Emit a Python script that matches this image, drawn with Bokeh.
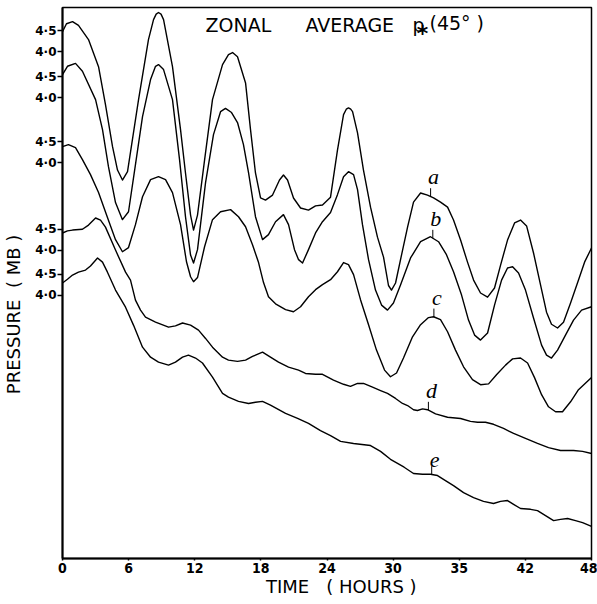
import numpy as np
from bokeh.plotting import figure
from bokeh.models import FixedTicker, Range1d, Label
from bokeh.core.properties import value
from bokeh.embed import file_html
from bokeh.resources import INLINE

# ---------------- data ----------------
hours_a = [0, 0.36, 0.91, 1.45, 2.36, 3.27, 3.90, 4.54, 4.99, 5.44, 5.90, 6.90, 7.80, 8.26, 8.50, 8.71,
           8.94, 9.17, 9.98, 10.71, 11.16, 11.62, 11.89, 12.25, 12.89, 13.61, 14.52, 15.06, 15.43, 15.88,
           16.61, 17.06, 17.51, 17.97, 18.42, 19.06, 19.69, 20.05, 20.42, 20.96, 21.60, 22.32, 22.96,
           23.59, 24.32, 24.95, 25.50, 25.75, 25.95, 26.15, 26.32, 26.77, 27.31, 27.95, 28.58, 29.13, 29.58,
           29.85, 30.22, 30.76, 31.31, 31.85, 32.49, 33.12, 33.67, 34.30, 34.94, 35.48, 36.12, 36.75,
           37.30, 37.93, 38.57, 39.20, 39.75, 40.38, 41.02, 41.56, 42.11, 42.74, 43.38, 43.92, 44.37,
           44.92, 45.46, 46.10, 46.82, 47.37, 48.0]
pres_a = [4.48, 4.67, 4.72, 4.63, 4.29, 3.64, 2.73, 1.72, 1.16, 0.92, 1.12, 2.85, 4.29, 4.77, 4.90, 4.94,
          4.90, 4.77, 3.64, 2.13, 1.09, 0.08, -0.28, 0.08, 1.40, 2.85, 3.69, 3.93, 3.98, 3.88,
          3.25, 2.13, 1.09, 0.49, 0.44, 0.56, 0.92, 1.04, 0.92, 0.49, 0.25, 0.20, 0.30,
          0.32, 0.51, 1.64, 2.49, 2.62, 2.65, 2.62, 2.56, 2.05, 1.16, 0.27, -0.45, -0.93, -1.61,
          -1.72, -1.55, -0.88, -0.21, 0.39, 0.61, 0.56, 0.49, 0.39, 0.27, -0.04, -0.52, -1.05,
          -1.48, -1.79, -1.89, -1.67, -1.12, -0.52, -0.11, -0.04, -0.18, -0.83, -1.60, -2.25, -2.54,
          -2.63, -2.49, -2.03, -1.48, -1.05, -0.71]

hours_b = [0, 0.45, 1.18, 1.81, 3.00, 3.63, 4.17, 4.81, 5.44, 5.99, 6.62, 7.26, 7.99, 8.44, 8.71,
           9.17, 9.98, 10.62, 11.16, 11.62, 11.89, 12.25, 12.98, 13.70, 14.34, 14.79, 15.34, 15.88,
           16.42, 16.88, 17.51, 18.15, 18.69, 19.33, 20.05, 20.51, 21.05, 21.42, 21.78, 22.32, 22.96,
           23.59, 24.32, 24.95, 25.50, 25.95, 26.41, 26.77, 27.22, 27.77, 28.40, 28.95, 29.49, 30.03,
           30.67, 31.58, 32.49, 33.39, 34.12, 34.84, 35.48, 36.21, 36.84, 37.39, 37.93, 38.57, 39.20,
           39.84, 40.38, 40.84, 41.38, 42.01, 42.74, 43.47, 43.92, 44.37, 44.92, 45.64, 46.37, 47.10,
           48.0]
pres_b = [4.55, 4.75, 4.82, 4.63, 3.95, 3.23, 2.34, 1.48, 1.07, 1.26, 2.39, 3.54, 4.43, 4.75, 4.79,
          4.67, 3.95, 2.51, 1.14, 0.22, 0.03, 0.35, 1.96, 3.11, 3.66, 3.74, 3.64, 3.40,
          2.87, 2.20, 1.14, 0.59, 0.71, 1.02, 1.19, 0.95, 0.35, 0.11, 0.03, 0.35, 0.75,
          1.02, 1.24, 1.67, 2.10, 2.22, 2.15, 1.79, 0.95, 0.11, -0.62, -0.98, -1.10, -0.93,
          -0.50, 0.15, 0.54, 0.66, 0.54, 0.23, -0.18, -0.74, -1.34, -1.70, -1.82, -1.65, -0.98,
          -0.38, -0.09, -0.06, -0.21, -0.62, -1.29, -1.94, -2.18, -2.25, -2.06, -1.70, -1.34, -1.10,
          -1.02]

hours_c = [0, 0.54, 1.18, 1.81, 2.54, 3.27, 4.08, 4.81, 5.44, 5.99, 6.62, 7.26, 7.99, 8.71, 9.35,
           9.98, 10.71, 11.25, 11.62, 11.89, 12.25, 12.89, 13.61, 14.34, 15.25, 15.97, 16.61, 17.24,
           17.79, 18.24, 18.69, 19.33, 20.24, 20.96, 21.60, 22.32, 22.96, 23.59, 24.32, 24.95, 25.50,
           25.95, 26.41, 27.04, 27.77, 28.49, 29.22, 29.76, 30.31, 30.94, 31.76, 32.49, 33.21, 33.67,
           34.30, 34.94, 35.66, 36.39, 37.20, 37.93, 38.66, 39.38, 40.20, 40.84, 41.56, 42.20, 42.83,
           43.47, 44.10, 44.74, 45.37, 46.10, 46.82, 48.0]
pres_c = [4.38, 4.43, 4.36, 4.07, 3.71, 3.28, 2.68, 2.15, 1.86, 1.96, 2.51, 3.18, 3.59, 3.66, 3.59,
          3.28, 2.51, 1.62, 1.26, 1.14, 1.24, 1.98, 2.63, 2.82, 2.87, 2.70, 2.46, 2.03,
          1.60, 1.12, 0.78, 0.61, 0.47, 0.42, 0.54, 0.78, 0.95, 1.07, 1.19, 1.38, 1.60,
          1.55, 1.31, 0.71, 0.11, -0.50, -0.98, -1.14, -1.05, -0.69, -0.18, 0.11, 0.28, 0.30,
          0.23, -0.06, -0.50, -0.90, -1.21, -1.33, -1.31, -1.09, -0.86, -0.71, -0.69, -0.81, -1.16,
          -1.57, -1.86, -1.98, -1.98, -1.74, -1.45, -1.16]

hours_d = [0, 0.45, 0.91, 1.81, 2.36, 3.00, 3.45, 3.90, 4.81, 5.72, 6.17, 6.62, 7.08, 7.53, 8.44,
           9.62, 10.25, 10.89, 11.62, 12.34, 12.98, 13.61, 14.52, 15.06, 15.88, 16.61, 17.24, 18.15,
           18.87, 19.60, 20.51, 21.42, 22.05, 22.96, 23.59, 24.59, 25.50, 26.13, 26.77, 27.31, 28.13,
           28.86, 29.49, 30.22, 30.85, 31.31, 31.85, 32.21, 32.67, 33.12, 33.85, 34.94, 36.12, 37.02,
           37.66, 38.38, 39.11, 40.02, 40.93, 42.01, 43.10, 44.10, 45.19, 46.37, 47.19, 48.0]
pres_d = [4.41, 4.46, 4.48, 4.50, 4.60, 4.77, 4.72, 4.55, 4.00, 3.47, 3.28, 2.80, 2.56, 2.39, 2.27,
          2.15, 2.18, 2.25, 2.20, 2.08, 1.88, 1.67, 1.43, 1.36, 1.33, 1.36, 1.45, 1.55,
          1.43, 1.31, 1.19, 1.12, 1.04, 1.02, 1.02, 0.88, 0.78, 0.73, 0.80, 0.80, 0.71,
          0.63, 0.56, 0.44, 0.32, 0.27, 0.17, 0.15, 0.19, 0.17, 0.07, -0.01, -0.04, -0.11,
          -0.13, -0.13, -0.18, -0.28, -0.40, -0.52, -0.64, -0.74, -0.81, -0.81, -0.83, -0.88]

hours_e = [0, 0.45, 0.91, 1.45, 2.09, 2.54, 3.18, 3.63, 4.08, 4.81, 5.72, 6.44, 7.26, 7.99, 8.71,
           9.62, 10.25, 10.89, 11.43, 12.07, 12.70, 13.61, 14.52, 15.06, 15.97, 16.88, 17.51, 18.15,
           18.87, 20.24, 21.33, 22.32, 23.41, 24.32, 25.23, 26.41, 27.95, 28.86, 29.76, 31.0, 31.85,
           32.67, 33.39, 34.03, 34.75, 35.48, 36.39, 37.30, 38.20, 39.11, 39.75, 40.38, 40.93, 41.56,
           42.47, 43.10, 43.83, 44.56, 45.19, 45.83, 46.55, 47.19, 48.0]
pres_e = [4.29, 4.38, 4.48, 4.55, 4.60, 4.70, 4.89, 4.79, 4.55, 4.12, 3.71, 3.28, 2.75, 2.51, 2.39,
          2.32, 2.39, 2.51, 2.56, 2.49, 2.37, 2.03, 1.64, 1.55, 1.45, 1.40, 1.43, 1.45,
          1.36, 1.16, 1.04, 0.92, 0.75, 0.63, 0.49, 0.44, 0.39, 0.25, 0.06, -0.13, -0.28,
          -0.30, -0.30, -0.33, -0.45, -0.57, -0.74, -0.86, -0.95, -1.00, -0.95, -0.93, -1.02, -1.12,
          -1.14, -1.17, -1.29, -1.41, -1.38, -1.36, -1.41, -1.46, -1.55]

series_names = ["a", "b", "c", "d", "e"]
series_offsets = [8.16, 7.06, 5.50, 3.40, 2.32]     # vertical stacking of the curves (mb)
y_tick_values = [4.0, 4.5]                          # labelled pressures on each curve's scale
label_hours = [33.4, 33.6, 33.7, 33.2, 33.5]        # where the curve letters sit
x_ticks = [0, 6, 12, 18, 24, 30, 36, 42, 48]
x_tick_labels = ["0", "6", "12", "18", "24", "30", "35", "42", "48"]

all_hours = [hours_a, hours_b, hours_c, hours_d, hours_e]
all_pres = [pres_a, pres_b, pres_c, pres_d, pres_e]

NB = "\u00a0"

# ---------------- figure ----------------
p = figure(width=597, height=604, output_backend="svg", toolbar_location=None,
           x_range=Range1d(0, 48), y_range=Range1d(0, 13.22),
           min_border_left=62, min_border_right=6, min_border_top=7, min_border_bottom=46)
p.grid.visible = False
p.outline_line_color = "black"
p.outline_line_width = 1.5
p.background_fill_color = "white"
p.border_fill_color = "white"

# y axis: a pair of ticks for every curve
yt, yover = [], {}
for off in series_offsets:
    for v in y_tick_values:
        t = round(v + off, 3)
        yt.append(t)
        yover[t] = f"{v:.1f}".replace(".", "\u00b7")
p.yaxis.ticker = FixedTicker(ticks=yt)
p.yaxis.major_label_overrides = yover

p.xaxis.ticker = FixedTicker(ticks=x_ticks)
p.xaxis.major_label_overrides = {t: s for t, s in zip(x_ticks, x_tick_labels)}

for ax in (p.xaxis[0], p.yaxis[0]):
    ax.axis_line_color = "black"
    ax.axis_line_width = 2
    ax.major_tick_line_color = "black"
    ax.major_tick_line_width = 1.5
    ax.major_tick_in = 0
    ax.minor_tick_line_color = None
    ax.major_label_text_font_style = "bold"
    ax.major_label_text_color = "black"
    ax.axis_label_text_font = "DejaVu Sans"
    ax.axis_label_text_font_style = "normal"
    ax.axis_label_text_font_size = "18px"
    ax.axis_label_text_color = "black"
p.yaxis.major_label_text_font = "DejaVu Sans"
p.yaxis.major_label_text_font_size = "12px"
p.yaxis.major_tick_out = 5
p.yaxis.major_label_standoff = 1
p.yaxis.axis_label = "PRESSURE" + NB * 2 + "(" + NB + "MB" + NB + ")" + NB * 11
p.yaxis.axis_label_standoff = 8
p.xaxis.major_label_text_font = "'Liberation Sans Narrow', 'DejaVu Sans Condensed', 'DejaVu Sans', sans-serif"
p.xaxis.major_label_text_font_size = "14px"
p.xaxis.major_tick_out = 2
p.xaxis.major_label_standoff = 2
p.xaxis.axis_label = NB * 5 + "TIME" + NB * 3 + "(" + NB + "HOURS" + NB + ")"
p.xaxis.axis_label_standoff = 0

# curves
for hrs, prs, off in zip(all_hours, all_pres, series_offsets):
    p.line(hrs, np.array(prs) + off, line_color="black", line_width=1.4, line_join="round")

# curve letters with short leaders
lead = 0.2
lx, ly0, ly1 = [], [], []
for hrs, prs, off, lh in zip(all_hours, all_pres, series_offsets, label_hours):
    yv = float(np.interp(lh, hrs, prs)) + off
    lx.append(lh); ly0.append(yv); ly1.append(yv + lead)
p.segment(x0=lx, y0=ly0, x1=lx, y1=ly1, line_color="black", line_width=1)
p.text(x=lx, y=ly1, text=series_names, text_font=value("Liberation Serif"),
       text_font_style="italic", text_font_size="22px", text_align="center",
       text_baseline="bottom", x_offset=3, y_offset=1, text_color="black")

# title inside the frame
for txt, xh, yv, size, base, align, style in [
        ("ZONAL", 12.98, 12.79, "19px", "alphabetic", "left", "normal"),
        ("AVERAGE", 22.05, 12.79, "19px", "alphabetic", "left", "normal"),
        ("p", 31.75, 12.79, "19px", "alphabetic", "left", "normal"),
        ("*", 32.67, 12.60, "22px", "middle", "center", "bold"),
        ("(45\u00b0" + NB + ")", 33.3, 12.86, "19px", "alphabetic", "left", "normal")]:
    p.add_layout(Label(x=xh, y=yv, text=txt, text_font="DejaVu Sans", text_font_size=size,
                       text_baseline=base, text_align=align, text_color="black",
                       text_font_style=style))

open("out.html", "w").write(file_html(p, INLINE))
